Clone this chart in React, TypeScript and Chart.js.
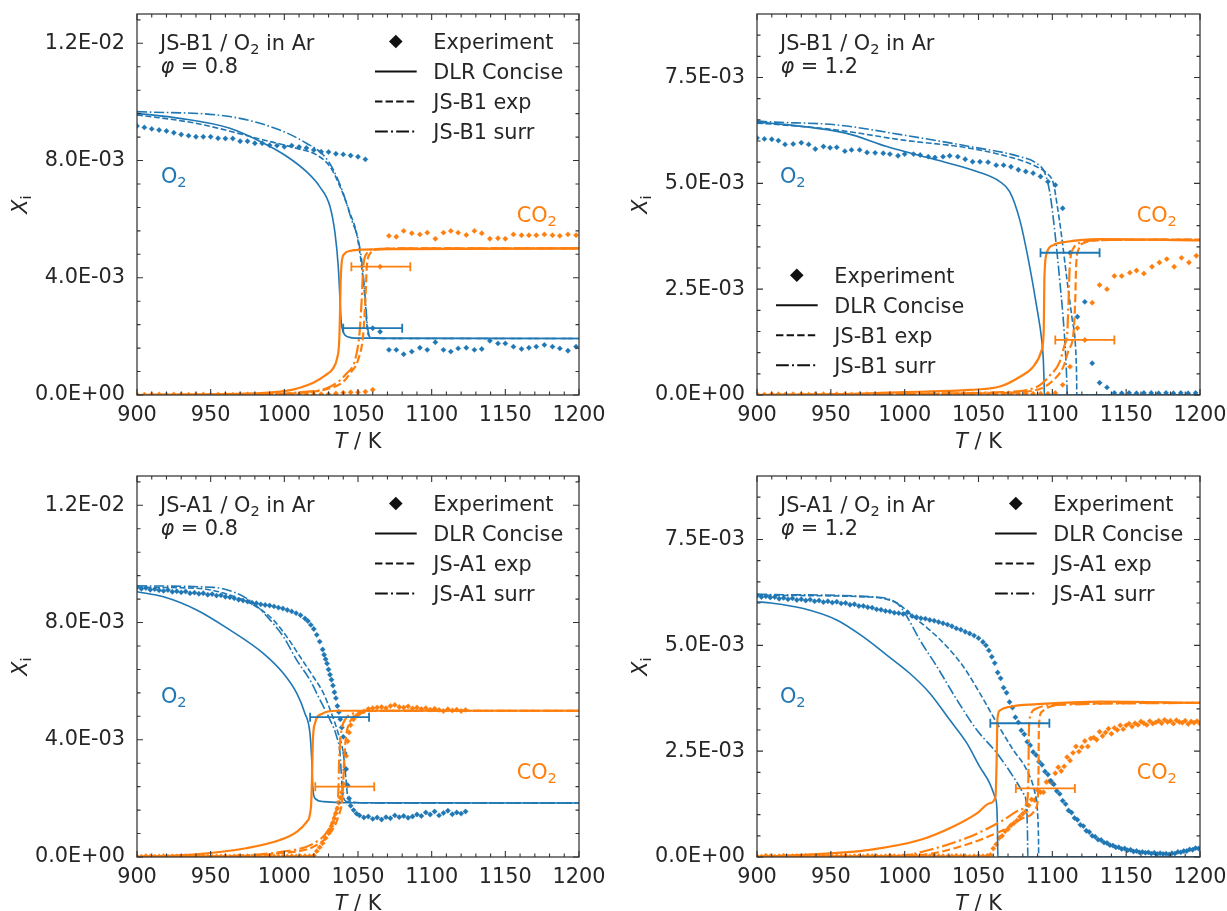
import React, { useEffect, useRef } from 'react';
import { Chart, registerables } from 'chart.js';

Chart.register(...registerables);

type P = [number, number][];
type EB = [number, number, number][];

const BLUE = '#1f77b4';
const ORANGE = '#ff7f0e';
const INK = '#262626';
const AXIS = '#333333';
const FONT = '"DejaVu Sans"';
const FS = 20.8;

// ---------- ticks ----------
const xMajorTicks = [900, 950, 1000, 1050, 1100, 1150, 1200];
const xMinorTicks = [910, 920, 930, 940, 960, 970, 980, 990, 1010, 1020, 1030, 1040, 1060, 1070, 1080, 1090, 1110, 1120, 1130, 1140, 1160, 1170, 1180, 1190];
const yMajorLean = [0, 0.004, 0.008, 0.012];
const yMinorLean = [0.0008, 0.0016, 0.0024, 0.0032, 0.0048, 0.0056, 0.0064, 0.0072, 0.0088, 0.0096, 0.0104, 0.0112, 0.0128];
const yMajorRich = [0, 0.0025, 0.005, 0.0075];
const yMinorRich = [0.0005, 0.001, 0.0015, 0.002, 0.003, 0.0035, 0.004, 0.0045, 0.0055, 0.006, 0.0065, 0.007, 0.008, 0.0085];

// ---------- JS-B1, phi = 0.8 (values in 1E-03) ----------
const tlO2Exp: P = [[900,9.18],[905,9.13],[910,9.08],[915,9.04],[920,9.01],[925,8.95],[930,8.89],[935,8.85],[940,8.81],[945,8.81],[950,8.81],[955,8.76],[960,8.75],[965,8.75],[970,8.66],[975,8.66],[980,8.59],[985,8.59],[990,8.52],[995,8.51],[1000,8.47],[1005,8.51],[1010,8.46],[1015,8.43],[1020,8.36],[1025,8.30],[1030,8.29],[1035,8.23],[1040,8.21],[1045,8.17],[1050,8.13],[1055,8.04],[1060,2.28],[1065,2.16],[1071,1.54],[1076,1.54],[1081,1.39],[1086.5,1.48],[1092,1.61],[1097,1.54],[1102.5,1.80],[1108,1.54],[1113,1.48],[1118,1.59],[1123.5,1.61],[1129,1.54],[1134,1.57],[1139.5,1.85],[1145,1.76],[1150,1.76],[1155.5,1.65],[1161,1.57],[1166,1.61],[1171,1.65],[1176.5,1.71],[1182,1.65],[1187,1.59],[1192.5,1.51],[1198,1.65]];
const tlCO2Exp: P = [[900,0.02],[905,0.01],[910,0.02],[915,0.02],[920,0.01],[925,0.02],[930,0.02],[935,0.01],[940,0.02],[945,0.02],[950,0.01],[955,0.02],[960,0.02],[965,0.01],[970,0.02],[975,0.02],[980,0.02],[985,0.01],[990,0.02],[995,0.02],[1000,0.02],[1005,0.01],[1010,0.02],[1015,0.03],[1020,0.02],[1025,0.03],[1030,0.03],[1035,0.05],[1040,0.08],[1045,0.09],[1050,0.09],[1055,0.11],[1060,0.18],[1065,4.38],[1071,5.43],[1076,5.40],[1081,5.60],[1086.5,5.52],[1092,5.48],[1097,5.54],[1102.5,5.33],[1108,5.54],[1113,5.60],[1118,5.54],[1123.5,5.46],[1129,5.60],[1134,5.52],[1139.5,5.33],[1145,5.35],[1150,5.33],[1155.5,5.48],[1161,5.45],[1166,5.45],[1171,5.45],[1176.5,5.48],[1182,5.45],[1187,5.43],[1192.5,5.48],[1198,5.45]];
const tlO2Dlr: P = [[900,9.61],[929,9.44],[963,9.10],[986,8.59],[1002,8.13],[1015,7.62],[1024,7.11],[1031,6.43],[1034.4,5.52],[1036.6,4.38],[1037.8,3.24],[1038.5,2.56],[1040,2.15],[1043,1.99],[1050,1.94],[1200,1.93]];
const tlO2Mexp: P = [[900,9.56],[940,9.27],[986,8.70],[1008,8.42],[1022,8.19],[1031,7.79],[1037.8,7.11],[1044.6,6.20],[1049,5.52],[1052.5,4.38],[1054.8,3.24],[1056,2.40],[1057,2.05],[1060,1.95],[1070,1.93],[1200,1.93]];
const tlO2Surr: P = [[900,9.67],[963,9.50],[997,9.04],[1015,8.59],[1026.5,8.19],[1033.3,7.68],[1040,6.88],[1045.7,5.97],[1050.2,5.29],[1053,4.38],[1055,3.24],[1056.3,2.40],[1057.5,2.05],[1060,1.95],[1070,1.93],[1200,1.93]];
const tlCO2Dlr: P = [[900,0],[950,0.02],[980,0.06],[1000,0.13],[1010,0.24],[1020,0.43],[1028,0.68],[1033,0.90],[1035.8,1.25],[1037.2,1.80],[1037.8,2.80],[1038.2,3.80],[1038.8,4.45],[1040.5,4.80],[1045,4.92],[1053,4.96],[1080,4.98],[1200,5.0]];
const tlCO2Mexp: P = [[900,0],[990,0.02],[1008,0.06],[1031,0.23],[1040,0.45],[1044.6,0.74],[1050,1.19],[1053.6,2.10],[1055,3.24],[1056,4.38],[1058.3,4.83],[1062.8,4.97],[1080,5.0],[1200,5.0]];
const tlCO2Surr: P = [[900,0],[990,0.03],[1008,0.08],[1031,0.28],[1042.4,0.74],[1048,1.19],[1051,2.10],[1052.5,3.24],[1053.6,4.38],[1056,4.83],[1060.5,4.97],[1080,5.0],[1200,5.0]];
const tlErr: EB = [[1060,2.28,20],[1065.5,4.38,20]];

// ---------- JS-B1, phi = 1.2 ----------
const trO2Exp: P = [[900,6.07],[905,6.05],[910,6.04],[914.5,6.01],[919,5.92],[924.5,5.93],[930,5.96],[935,5.92],[939.5,5.81],[945,5.87],[949.5,5.84],[954,5.85],[959.5,5.76],[964,5.79],[969.5,5.79],[974.5,5.73],[980,5.72],[985.5,5.71],[990,5.69],[995.5,5.65],[1000,5.69],[1006,5.69],[1010.5,5.67],[1016,5.63],[1020.5,5.61],[1026,5.63],[1030.5,5.65],[1036,5.63],[1041,5.57],[1046,5.51],[1051,5.51],[1056.5,5.50],[1062,5.43],[1067,5.43],[1072,5.39],[1077,5.32],[1082,5.28],[1087,5.24],[1092,5.16],[1097,5.04],[1102,4.96],[1107,4.41],[1112,3.36],[1117,1.85],[1122,2.20],[1127,0.75],[1132,0.29],[1137,0.18],[1142,0.05],[1147,0.04],[1152,0.05],[1157,0.04],[1162,0.05],[1167,0.05],[1172,0.04],[1177,0.05],[1182,0.04],[1187,0.05],[1192,0.04],[1197,0.05]];
const trCO2Exp: P = [[900,0.02],[905,0.01],[910,0.02],[914.5,0.02],[919,0.01],[924.5,0.02],[930,0.02],[935,0.01],[939.5,0.02],[945,0.02],[949.5,0.01],[954,0.02],[959.5,0.02],[964,0.01],[969.5,0.02],[974.5,0.02],[980,0.02],[985.5,0.01],[990,0.02],[995.5,0.02],[1000,0.02],[1006,0.01],[1010.5,0.02],[1016,0.02],[1020.5,0.02],[1026,0.02],[1030.5,0.02],[1036,0.02],[1041,0.02],[1046,0.02],[1051,0.02],[1056.5,0.02],[1062,0.02],[1067,0.02],[1072,0.03],[1077,0.02],[1082,0.03],[1087,0.03],[1092,0.03],[1097,0.03],[1102,0.05],[1107,0.24],[1112,0.67],[1117,1.58],[1122,1.30],[1127,2.18],[1132,2.60],[1137,2.50],[1142,2.81],[1147,2.81],[1152.5,2.89],[1157,2.94],[1162,2.87],[1167.5,3.03],[1172.5,3.13],[1177.5,3.21],[1182.5,3.03],[1187.5,3.24],[1192.5,3.13],[1197.5,3.29]];
const trO2Dlr: P = [[900,6.44],[909.5,6.42],[960.8,6.18],[987.9,5.87],[1021.8,5.55],[1048.9,5.28],[1064.4,5.04],[1071.2,4.80],[1078,4.13],[1083.8,3.19],[1089.4,2.09],[1092.8,1.30],[1093.9,0.83],[1094.4,0.3],[1094.6,0],[1200,0]];
const trO2Mexp: P = [[900,6.42],[909.5,6.40],[954,6.26],[999.1,6.02],[1044.1,5.83],[1078,5.55],[1089.4,5.39],[1096.2,5.24],[1100.7,5.00],[1103.2,4.5],[1106.1,3.8],[1110,2.7],[1113.4,1.8],[1115.6,1.2],[1116.4,0.5],[1116.6,0],[1200,0]];
const trO2Surr: P = [[900,6.47],[909.5,6.45],[954,6.38],[999.1,6.14],[1044.1,5.87],[1078,5.63],[1089.4,5.47],[1095,5.24],[1098.4,4.76],[1101.8,3.82],[1105.2,2.64],[1108.1,1.46],[1109.4,0.67],[1109.9,0.2],[1110.1,0],[1200,0]];
const trCO2Dlr: P = [[900,0],[960,0.02],[999.1,0.07],[1044.1,0.12],[1064.6,0.20],[1078.1,0.43],[1087.1,0.67],[1092.8,1.06],[1094.2,1.54],[1094.6,2.72],[1096.2,3.35],[1100.6,3.54],[1109.7,3.62],[1132.3,3.68],[1200,3.65]];
const trCO2Mexp: P = [[900,0],[1000,0.02],[1066.4,0.05],[1089.4,0.12],[1100.7,0.35],[1107.5,0.67],[1111,1.06],[1114.3,1.46],[1115.5,2.24],[1116.1,3.03],[1117.7,3.43],[1122.2,3.60],[1134.3,3.66],[1200,3.67]];
const trCO2Surr: P = [[900,0],[1000,0.03],[1066.4,0.07],[1089.4,0.19],[1098.3,0.46],[1105.1,0.79],[1108.3,1.18],[1110.1,1.46],[1111,2.24],[1111.8,3.03],[1114.2,3.46],[1119.9,3.60],[1134.3,3.66],[1200,3.67]];
const trErr: EB = [[1112,3.36,20],[1122,1.30,20]];

// ---------- JS-A1, phi = 0.8 ----------
const blO2Exp: P = [[900,9.20],[903,9.15],[906,9.18],[909,9.12],[912,9.14],[915,9.10],[918,9.08],[921,9.11],[924,9.05],[927,9.07],[930,9.03],[933,9.06],[936,9.00],[939,9.02],[942,8.98],[945,9.00],[948,8.95],[951,8.97],[954,8.92],[957,8.93],[960,8.88],[963,8.86],[966,8.83],[969,8.78],[972,8.75],[975,8.72],[978,8.68],[981,8.66],[984,8.62],[987,8.60],[990,8.58],[993,8.55],[996,8.51],[999,8.48],[1002,8.43],[1005,8.38],[1008,8.32],[1011,8.25],[1014,8.14],[1016,8.05],[1018,7.92],[1020,7.78],[1022,7.58],[1024,7.35],[1026,7.08],[1027,6.90],[1028,6.75],[1029,6.60],[1030,6.40],[1031,6.22],[1032,6.05],[1033,5.85],[1034,5.62],[1035,5.42],[1036,5.15],[1037,4.95],[1038,4.70],[1039,4.42],[1040,4.10],[1041,3.55],[1042,3.00],[1043,2.45],[1044,2.00],[1045,1.75],[1047,1.60],[1049,1.48],[1051,1.42],[1054,1.35],[1057,1.38],[1060,1.30],[1063,1.35],[1066,1.28],[1069,1.36],[1072,1.32],[1075,1.42],[1078,1.36],[1081,1.40],[1084,1.34],[1087,1.38],[1090,1.45],[1093,1.40],[1096,1.52],[1099,1.45],[1102,1.55],[1105,1.42],[1108,1.50],[1111,1.58],[1114,1.46],[1117,1.52],[1120,1.48],[1123,1.55]];
const blCO2Exp: P = [[900,0.02],[903,0.01],[906,0.03],[909,0.02],[912,0.01],[915,0.02],[918,0.03],[921,0.01],[924,0.02],[927,0.02],[930,0.01],[933,0.03],[936,0.02],[939,0.01],[942,0.02],[945,0.03],[948,0.02],[951,0.01],[954,0.02],[957,0.02],[960,0.03],[963,0.01],[966,0.02],[969,0.02],[972,0.01],[975,0.03],[978,0.02],[981,0.02],[984,0.01],[987,0.02],[990,0.03],[993,0.02],[996,0.01],[999,0.02],[1002,0.02],[1005,0.03],[1008,0.02],[1011,0.02],[1014,0.03],[1017,0.03],[1020,0.05],[1022,0.20],[1024,0.33],[1026,0.47],[1028,0.65],[1030,0.82],[1031,0.92],[1032,1.05],[1033,1.18],[1034,1.32],[1035,1.49],[1036,1.66],[1037,1.85],[1038,2.02],[1039,2.20],[1040,2.50],[1041,2.97],[1042,3.45],[1043,3.95],[1044,4.25],[1045,4.50],[1047,4.70],[1049,4.82],[1051,4.90],[1054,4.97],[1057,5.05],[1060,5.08],[1063,5.10],[1066,5.12],[1069,5.08],[1072,5.15],[1075,5.19],[1078,5.12],[1081,5.10],[1084,5.14],[1087,5.07],[1090,5.10],[1093,5.05],[1096,5.08],[1099,5.03],[1102,5.06],[1105,5.02],[1108,4.98],[1111,5.04],[1114,5.00],[1117,5.03],[1120,4.98],[1123,5.02]];
const blO2Dlr: P = [[900,9.05],[918,8.88],[940.5,8.43],[963,7.75],[985.7,6.95],[999.3,6.27],[1008.4,5.59],[1014,4.90],[1017.4,4.22],[1018.6,3.31],[1019.3,2.40],[1020.8,2.00],[1026.5,1.89],[1042,1.85],[1200,1.84]];
const blO2Mexp: P = [[900,9.2],[940.5,9.17],[963,8.94],[981,8.54],[992.5,8.09],[1001.6,7.52],[1010.6,6.84],[1019.7,6.15],[1026.5,5.59],[1032,4.90],[1036.6,4.22],[1040,3.54],[1041.9,2.63],[1043,2.06],[1045.7,1.89],[1055,1.85],[1200,1.84]];
const blO2Surr: P = [[900,9.25],[951.8,9.20],[967.7,9.00],[979,8.66],[990.3,8.09],[999.3,7.52],[1008.4,6.72],[1017.4,6.04],[1024.2,5.36],[1031,4.68],[1035.5,4.11],[1037.8,3.54],[1038.9,2.63],[1040,2.06],[1042.4,1.89],[1052,1.85],[1200,1.84]];
const blCO2Dlr: P = [[900,0],[940,0.09],[974,0.30],[997,0.58],[1008.4,0.86],[1015.2,1.20],[1018.1,1.72],[1018.8,2.74],[1019.3,3.88],[1020.8,4.56],[1025.3,4.88],[1035.5,4.99],[1200,4.99]];
const blCO2Mexp: P = [[900,0],[960,0.02],[997,0.13],[1019.7,0.35],[1031,0.81],[1036.6,1.38],[1039.6,2.17],[1040.6,3.31],[1041.9,4.11],[1044.6,4.62],[1051.4,4.90],[1065,4.99],[1200,4.99]];
const blCO2Surr: P = [[900,0],[960,0.03],[997,0.17],[1019.7,0.46],[1029.8,0.92],[1034.4,1.49],[1036.6,2.17],[1037.2,3.31],[1038.5,4.22],[1041.2,4.68],[1046.8,4.90],[1060,4.99],[1200,4.99]];
const blErr: EB = [[1037.5,4.77,20],[1041,2.40,20]];

// ---------- JS-A1, phi = 1.2 ----------
const brO2Exp: P = [[900,6.17],[903,6.14],[906,6.16],[909,6.13],[912,6.14],[915,6.10],[918,6.12],[921,6.09],[924,6.11],[927,6.07],[930,6.09],[933,6.06],[936,6.08],[939,6.04],[942,6.06],[945,6.02],[948,6.04],[951,6.01],[954,6.03],[957,5.99],[960,6.00],[963,5.96],[966,5.97],[969,5.93],[972,5.93],[975,5.90],[978,5.89],[981,5.85],[984,5.84],[987,5.81],[990,5.80],[993,5.77],[996,5.76],[999,5.74],[1002,5.78],[1005,5.69],[1008,5.67],[1011,5.64],[1014,5.63],[1017,5.60],[1020,5.58],[1023,5.55],[1026,5.52],[1029,5.49],[1032,5.45],[1035,5.40],[1038,5.37],[1041,5.32],[1044,5.28],[1047,5.23],[1050,5.17],[1053,5.08],[1055,5.00],[1057,4.88],[1059,4.73],[1061,4.58],[1063,4.36],[1065,4.22],[1067,4.00],[1069,3.88],[1071,3.66],[1073,3.53],[1075,3.30],[1077,3.18],[1079,2.99],[1081,2.90],[1083,2.72],[1085,2.64],[1087,2.48],[1089,2.41],[1091,2.25],[1093,2.18],[1095,2.02],[1097,1.95],[1099,1.80],[1101,1.72],[1103,1.56],[1105,1.49],[1107,1.33],[1109,1.25],[1111,1.10],[1113,1.05],[1115,0.92],[1117,0.88],[1119,0.76],[1121,0.73],[1123,0.62],[1125,0.59],[1127,0.50],[1129,0.48],[1131,0.41],[1133,0.40],[1135,0.34],[1137,0.33],[1139,0.28],[1141,0.27],[1143,0.23],[1145,0.23],[1147,0.19],[1149,0.20],[1151,0.16],[1153,0.17],[1155,0.13],[1157,0.14],[1159,0.11],[1161,0.12],[1163,0.10],[1165,0.11],[1167,0.08],[1169,0.10],[1171,0.07],[1173,0.09],[1175,0.07],[1177,0.08],[1179,0.06],[1181,0.09],[1183,0.08],[1185,0.12],[1187,0.11],[1189,0.14],[1191,0.14],[1193,0.18],[1195,0.17],[1197,0.21],[1199,0.20]];
const brCO2Exp: P = [[900,0.02],[903,0.01],[906,0.03],[909,0.02],[912,0.01],[915,0.02],[918,0.03],[921,0.01],[924,0.02],[927,0.02],[930,0.01],[933,0.03],[936,0.02],[939,0.01],[942,0.02],[945,0.03],[948,0.02],[951,0.01],[954,0.02],[957,0.02],[960,0.03],[963,0.01],[966,0.02],[969,0.02],[972,0.01],[975,0.03],[978,0.02],[981,0.02],[984,0.01],[987,0.02],[990,0.03],[993,0.02],[996,0.01],[999,0.02],[1002,0.02],[1005,0.03],[1008,0.02],[1011,0.02],[1014,0.01],[1017,0.02],[1020,0.03],[1023,0.02],[1026,0.02],[1029,0.01],[1032,0.02],[1035,0.03],[1038,0.02],[1041,0.02],[1044,0.01],[1047,0.02],[1050,0.03],[1053,0.02],[1056,0.03],[1058,0.05],[1060,0.20],[1062,0.30],[1064,0.45],[1066,0.50],[1068,0.61],[1070,0.66],[1072,0.75],[1074,0.80],[1076,0.86],[1078,0.95],[1080,1.02],[1082,1.08],[1084,1.22],[1086,1.36],[1088,1.34],[1090,1.58],[1092,1.53],[1094,1.53],[1096,1.77],[1098,1.79],[1100,1.74],[1102,1.98],[1104,2.12],[1106,2.03],[1108,2.14],[1110,2.36],[1112,2.28],[1114,2.46],[1116,2.61],[1118,2.49],[1120,2.60],[1122,2.74],[1124,2.61],[1126,2.80],[1128,2.82],[1130,2.77],[1132,2.96],[1134,2.86],[1136,2.94],[1138,3.03],[1140,2.91],[1142,3.05],[1144,3.00],[1146,3.11],[1148,3.02],[1150,3.11],[1152,3.15],[1154,3.08],[1156,3.16],[1158,3.12],[1160,3.20],[1162,3.16],[1164,3.12],[1166,3.21],[1168,3.15],[1170,3.18],[1172,3.22],[1174,3.16],[1176,3.24],[1178,3.19],[1180,3.22],[1182,3.15],[1184,3.23],[1186,3.19],[1188,3.17],[1190,3.22],[1192,3.14],[1194,3.20],[1196,3.17],[1198,3.21],[1200,3.15]];
const brO2Dlr: P = [[900,6.03],[909.5,6.0],[931.4,5.87],[954,5.60],[972,5.20],[987.9,4.77],[1003.4,4.34],[1017,3.87],[1030.5,3.24],[1042.1,2.69],[1050.9,2.13],[1057.6,1.74],[1061.1,1.42],[1062.4,1.19],[1062.8,0.71],[1063,0.2],[1063.1,0],[1200,0]];
const brO2Mexp: P = [[900,6.19],[909.5,6.18],[976.3,6.14],[994.7,6.0],[1005.8,5.68],[1017,5.36],[1028.6,4.97],[1039.7,4.50],[1050.9,3.87],[1062.5,3.16],[1073.5,2.53],[1082.6,2.06],[1088.3,1.50],[1089.9,1.11],[1090.6,0.5],[1090.8,0],[1200,0]];
const brO2Surr: P = [[900,6.21],[909.5,6.2],[976.3,6.15],[994.7,6.0],[1001.5,5.68],[1010.2,5.13],[1021.8,4.50],[1035.4,3.71],[1048.9,3.0],[1062.5,2.45],[1073.5,1.90],[1080.4,1.50],[1082.6,1.19],[1083.2,0.5],[1083.4,0],[1200,0]];
const brCO2Dlr: P = [[900,0],[930,0.05],[976.3,0.17],[1010.2,0.40],[1033,0.72],[1048.9,1.03],[1057.6,1.27],[1061.5,1.42],[1062.3,2.29],[1062.8,3.24],[1064.4,3.46],[1071.2,3.55],[1089.6,3.61],[1134.3,3.67],[1200,3.64]];
const brCO2Mexp: P = [[900,0],[996.6,0.02],[1017,0.07],[1044.1,0.32],[1066.8,0.64],[1082.6,0.95],[1089.4,1.19],[1090.6,1.90],[1090.9,3.08],[1092.8,3.43],[1098.3,3.55],[1112,3.62],[1200,3.64]];
const brCO2Surr: P = [[900,0],[996.6,0.03],[1017,0.17],[1044.1,0.48],[1066.8,0.87],[1078,1.11],[1082.6,1.27],[1083.8,1.90],[1084.1,2.92],[1084.9,3.31],[1089.4,3.51],[1103.1,3.59],[1200,3.64]];
const brErr: EB = [[1078,3.16,20],[1095.3,1.62,20]];

// ---------- panel layout ----------
interface Panel {
  key: string; left: number; top: number; w: number; h: number;
  padTop: number; padRight: number; yWidth: number; xHeight: number;
  yMax: number; yMajor: number[]; yMinor: number[];
  mech: string; phi: string;
  o2: P[]; co2: P[]; o2Exp: P; co2Exp: P; err: EB;
  legendDx: number; legendDy: number;
  o2Lab: [number, number]; co2Lab: [number, number];
}

const panels: Panel[] = [
  { key: 'tl', left: 0, top: 0, w: 613, h: 455, padTop: 14, padRight: 34, yWidth: 137, xHeight: 60,
    yMax: 0.013, yMajor: yMajorLean, yMinor: yMinorLean, mech: 'JS-B1', phi: '0.8',
    o2: [tlO2Dlr, tlO2Mexp, tlO2Surr], co2: [tlCO2Dlr, tlCO2Mexp, tlCO2Surr], o2Exp: tlO2Exp, co2Exp: tlCO2Exp, err: tlErr,
    legendDx: 238, legendDy: 35, o2Lab: [24, 168.7], co2Lab: [379.7, 207.7] },
  { key: 'tr', left: 613, top: 0, w: 614, h: 455, padTop: 14, padRight: 27, yWidth: 144, xHeight: 60,
    yMax: 0.009, yMajor: yMajorRich, yMinor: yMinorRich, mech: 'JS-B1', phi: '1.2',
    o2: [trO2Dlr, trO2Mexp, trO2Surr], co2: [trCO2Dlr, trCO2Mexp, trCO2Surr], o2Exp: trO2Exp, co2Exp: trCO2Exp, err: trErr,
    legendDx: 19, legendDy: 268.7, o2Lab: [23, 168.7], co2Lab: [379.7, 207.7] },
  { key: 'bl', left: 0, top: 455, w: 613, h: 456, padTop: 21, padRight: 34, yWidth: 137, xHeight: 54,
    yMax: 0.013, yMajor: yMajorLean, yMinor: yMinorLean, mech: 'JS-A1', phi: '0.8',
    o2: [blO2Dlr, blO2Mexp, blO2Surr], co2: [blCO2Dlr, blCO2Mexp, blCO2Surr], o2Exp: blO2Exp, co2Exp: blCO2Exp, err: blErr,
    legendDx: 238, legendDy: 35, o2Lab: [24, 226.7], co2Lab: [379.7, 303.3] },
  { key: 'br', left: 613, top: 455, w: 614, h: 456, padTop: 21, padRight: 27, yWidth: 144, xHeight: 54,
    yMax: 0.009, yMajor: yMajorRich, yMinor: yMinorRich, mech: 'JS-A1', phi: '1.2',
    o2: [brO2Dlr, brO2Mexp, brO2Surr], co2: [brCO2Dlr, brCO2Mexp, brCO2Surr], o2Exp: brO2Exp, co2Exp: brCO2Exp, err: brErr,
    legendDx: 238, legendDy: 35, o2Lab: [23, 226.7], co2Lab: [379.7, 303.3] },
];

// ---------- helpers ----------
function fmtE(v: number): string {
  if (Math.abs(v) < 1e-12) return '0.0E+00';
  let e = Math.floor(Math.log10(Math.abs(v)) + 1e-9);
  let m = v / Math.pow(10, e);
  if (Math.round(m * 10) / 10 >= 10) { m /= 10; e += 1; }
  return m.toFixed(1) + 'E' + (e < 0 ? '-' : '+') + String(Math.abs(e)).padStart(2, '0');
}

type Seg = { t: string; sub?: boolean; it?: boolean };
function fontStr(size: number, it?: boolean) { return `${it ? 'italic ' : ''}${size}px ${FONT}`; }
function drawRich(ctx: CanvasRenderingContext2D, segs: Seg[], x: number, y: number, color: string, align: 'left' | 'center' = 'left') {
  let w = 0;
  for (const s of segs) { ctx.font = fontStr(s.sub ? FS * 0.7 : FS, s.it); w += ctx.measureText(s.t).width; }
  let cx = align === 'center' ? x - w / 2 : x;
  ctx.fillStyle = color; ctx.textAlign = 'left'; ctx.textBaseline = 'alphabetic';
  for (const s of segs) {
    ctx.font = fontStr(s.sub ? FS * 0.7 : FS, s.it);
    ctx.fillText(s.t, cx, s.sub ? y + FS * 0.2 : y);
    cx += ctx.measureText(s.t).width;
  }
}

const DASH_B = { solid: [] as number[], dash: [5.9, 2.6], dashdot: [10.2, 2.6, 1.6, 2.6] };
const DASH_O = { solid: [] as number[], dash: [8.1, 3.5], dashdot: [14.1, 3.5, 2.2, 3.5] };
const DASH_L = { solid: [] as number[], dash: [7.4, 3.2], dashdot: [12.8, 3.2, 2, 3.2] };

function lineDs(pts: P, color: string, width: number, dash: number[]) {
  return {
    data: pts.map(([x, y]) => ({ x, y: y * 1e-3 })),
    showLine: true, borderColor: color, backgroundColor: color, borderWidth: width, borderDash: dash,
    pointRadius: 0, pointHoverRadius: 0, cubicInterpolationMode: 'monotone', fill: false,
    borderJoinStyle: 'round', borderCapStyle: 'butt',
  };
}
function pointDs(pts: P, color: string) {
  return {
    data: pts.map(([x, y]) => ({ x, y: y * 1e-3 })),
    showLine: false, pointStyle: 'rectRot', pointRadius: 2.7, pointHoverRadius: 2.7,
    pointBackgroundColor: color, pointBorderColor: color, pointBorderWidth: 0.3,
    backgroundColor: color, borderColor: color,
  };
}

function makePlugin(p: Panel) {
  return {
    id: 'panel_' + p.key,
    afterDatasetsDraw(chart: any) {
      const { ctx, chartArea: a, scales } = chart;
      const xs = scales.x, ys = scales.y;
      ctx.save();
      ctx.setLineDash([]);
      // error bars
      p.err.forEach(([t, v, dt], i) => {
        const x1 = xs.getPixelForValue(t - dt), x2 = xs.getPixelForValue(t + dt), y = ys.getPixelForValue(v * 1e-3);
        ctx.strokeStyle = i === 0 ? BLUE : ORANGE; ctx.lineWidth = 1.8;
        ctx.beginPath();
        ctx.moveTo(x1, y); ctx.lineTo(x2, y);
        ctx.moveTo(x1, y - 4.5); ctx.lineTo(x1, y + 4.5);
        ctx.moveTo(x2, y - 4.5); ctx.lineTo(x2, y + 4.5);
        ctx.stroke();
      });
      // ticks
      ctx.strokeStyle = AXIS; ctx.lineWidth = 1.1;
      ctx.beginPath();
      const xt = (vals: number[], len: number) => vals.forEach((v) => {
        const px = xs.getPixelForValue(v);
        ctx.moveTo(px, a.bottom); ctx.lineTo(px, a.bottom - len);
        ctx.moveTo(px, a.top); ctx.lineTo(px, a.top + len);
      });
      const yt = (vals: number[], len: number) => vals.forEach((v) => {
        const py = ys.getPixelForValue(v);
        ctx.moveTo(a.left, py); ctx.lineTo(a.left + len, py);
        ctx.moveTo(a.right, py); ctx.lineTo(a.right - len, py);
      });
      xt(xMajorTicks, 6); xt(xMinorTicks, 3.5); yt(p.yMajor, 6); yt(p.yMinor, 3.5);
      ctx.stroke();
      // frame
      ctx.lineWidth = 1.25;
      ctx.strokeRect(a.left, a.top, a.right - a.left, a.bottom - a.top);
      ctx.restore();
    },
    afterDraw(chart: any) {
      const { ctx, chartArea: a } = chart;
      ctx.save();
      // annotation
      drawRich(ctx, [{ t: p.mech + ' / O' }, { t: '2', sub: true }, { t: ' in Ar' }], a.left + 23, a.top + 35.5, INK);
      drawRich(ctx, [{ t: 'φ', it: true }, { t: ' = ' + p.phi }], a.left + 23.5, a.top + 59, INK);
      // species labels
      drawRich(ctx, [{ t: 'O' }, { t: '2', sub: true }], a.left + p.o2Lab[0], a.top + p.o2Lab[1], BLUE);
      drawRich(ctx, [{ t: 'CO' }, { t: '2', sub: true }], a.left + p.co2Lab[0], a.top + p.co2Lab[1], ORANGE);
      // legend
      const labels = ['Experiment', 'DLR Concise', p.mech + ' exp', p.mech + ' surr'];
      const dashes = [null, DASH_L.solid, DASH_L.dash, DASH_L.dashdot];
      const x0 = a.left + p.legendDx;
      labels.forEach((lab, i) => {
        const by = a.top + p.legendDy + 30 * i;
        const cy = by - 7.5;
        if (i === 0) {
          const cx = x0 + 20.8, r = 6.8;
          ctx.fillStyle = '#111';
          ctx.beginPath();
          ctx.moveTo(cx - r, cy); ctx.lineTo(cx, cy - r); ctx.lineTo(cx + r, cy); ctx.lineTo(cx, cy + r);
          ctx.closePath(); ctx.fill();
        } else {
          ctx.strokeStyle = '#111'; ctx.lineWidth = 2; ctx.setLineDash(dashes[i] as number[]);
          ctx.beginPath(); ctx.moveTo(x0, cy); ctx.lineTo(x0 + 41.7, cy); ctx.stroke();
          ctx.setLineDash([]);
        }
        drawRich(ctx, [{ t: lab }], x0 + 58.3, by, INK);
      });
      // axis titles
      drawRich(ctx, [{ t: 'T', it: true }, { t: ' / K' }], (a.left + a.right) / 2, a.bottom + 53, INK, 'center');
      ctx.save();
      ctx.translate(a.left - 117, (a.top + a.bottom) / 2);
      ctx.rotate(-Math.PI / 2);
      drawRich(ctx, [{ t: 'X', it: true }, { t: 'i', sub: true }], 0, 7, INK, 'center');
      ctx.restore();
      ctx.restore();
    },
  };
}

function PanelChart({ p }: { p: Panel }) {
  const ref = useRef<HTMLCanvasElement | null>(null);
  useEffect(() => {
    if (!ref.current) return;
    const datasets: any[] = [
      lineDs(p.co2[0], ORANGE, 2.2, DASH_O.solid),
      lineDs(p.co2[1], ORANGE, 2.2, DASH_O.dash),
      lineDs(p.co2[2], ORANGE, 2.2, DASH_O.dashdot),
      lineDs(p.o2[0], BLUE, 1.6, DASH_B.solid),
      lineDs(p.o2[1], BLUE, 1.6, DASH_B.dash),
      lineDs(p.o2[2], BLUE, 1.6, DASH_B.dashdot),
      pointDs(p.o2Exp, BLUE),
      pointDs(p.co2Exp, ORANGE),
    ];
    const chart = new Chart(ref.current, {
      type: 'scatter',
      data: { datasets },
      options: {
        responsive: false, animation: false, devicePixelRatio: 1, events: [],
        layout: { padding: { top: p.padTop, right: p.padRight, left: 0, bottom: 0 } },
        plugins: { legend: { display: false }, tooltip: { enabled: false }, title: { display: false } },
        scales: {
          x: {
            type: 'linear', min: 900, max: 1200,
            grid: { display: false, drawTicks: false }, border: { display: false },
            ticks: { color: INK, font: { family: 'DejaVu Sans', size: FS }, padding: 8, maxRotation: 0, minRotation: 0, autoSkip: false, callback: (v: any) => String(v) },
            afterBuildTicks: (s: any) => { s.ticks = xMajorTicks.map((value) => ({ value })); },
            afterFit: (s: any) => { s.height = p.xHeight; s.paddingLeft = 0; s.paddingRight = 0; },
          },
          y: {
            type: 'linear', min: 0, max: p.yMax,
            grid: { display: false, drawTicks: false }, border: { display: false },
            ticks: { color: INK, font: { family: 'DejaVu Sans', size: FS }, padding: 12, autoSkip: false, callback: (v: any) => fmtE(Number(v)) },
            afterBuildTicks: (s: any) => { s.ticks = p.yMajor.map((value) => ({ value })); },
            afterFit: (s: any) => { s.width = p.yWidth; s.paddingTop = 0; s.paddingBottom = 0; },
          },
        },
      } as any,
      plugins: [makePlugin(p) as any],
    });
    return () => chart.destroy();
  }, [p]);
  return (
    <canvas ref={ref} width={p.w} height={p.h}
      style={{ position: 'absolute', left: p.left, top: p.top, width: p.w, height: p.h, display: 'block' }} />
  );
}

export default function App() {
  return (
    <div style={{ position: 'absolute', left: 0, top: 0, width: 1227, height: 911, overflow: 'hidden', background: '#ffffff' }}>
      {panels.map((p) => <PanelChart key={p.key} p={p} />)}
    </div>
  );
}
